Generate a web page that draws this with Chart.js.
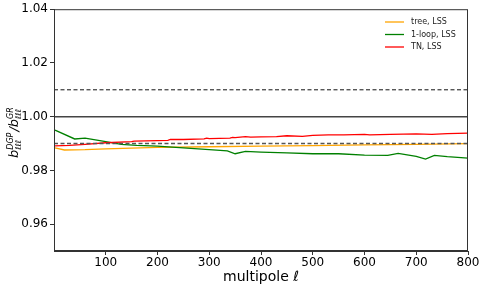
<!DOCTYPE html>
<html>
<head>
<meta charset="utf-8">
<script src="https://cdn.jsdelivr.net/npm/chart.js@4"></script>
<style>
  html, body { margin: 0; padding: 0; background: #fff; }
  #wrap { width: 485px; height: 292px; }
</style>
</head>
<body>
<div id="wrap"><canvas id="chart" width="485" height="292"></canvas></div>
<script>
// data
const treeX = [2, 20, 60, 100, 150, 200, 300, 400, 500, 600, 700, 800];
const treeY = [0.9884, 0.9876, 0.9877, 0.9880, 0.9883, 0.9886, 0.9888, 0.9890, 0.9892, 0.9895, 0.9897, 0.9900];

const loopX = [2, 40, 60, 100, 130, 160, 200, 250, 300, 335, 350, 370, 400, 450, 500, 550, 600, 645, 665, 700, 718, 735, 760, 800];
const loopY = [0.9950, 0.9917, 0.9920, 0.9907, 0.9897, 0.9893, 0.9890, 0.9884, 0.9877, 0.9873, 0.9862, 0.9871, 0.9868, 0.9865, 0.9862, 0.9862, 0.9857, 0.9856, 0.9863, 0.9852, 0.9842, 0.9856, 0.9851, 0.9846];

const tnX = [2, 30, 60, 100, 150, 155, 200, 220, 225, 250, 290, 295, 300, 340, 345, 350, 370, 380, 400, 430, 450, 480, 500, 530, 560, 600, 610, 650, 700, 730, 760, 800];
const tnY = [0.9891, 0.9893, 0.9897, 0.9903, 0.9907, 0.9909, 0.9911, 0.9912, 0.9915, 0.9915, 0.9917, 0.9920, 0.9918, 0.9920, 0.9923, 0.9922, 0.9926, 0.9924, 0.9925, 0.9926, 0.9929, 0.9927, 0.9930, 0.9932, 0.9932, 0.9934, 0.9932, 0.9934, 0.9936, 0.9934, 0.9937, 0.9939];

const refLevels = [1.01, 1.00, 0.99];
const xRange = [0, 800];
const xTicks = [100, 200, 300, 400, 500, 600, 700, 800];
const yTicks = [0.96, 0.98, 1.00, 1.02, 1.04];

const seriesLabels = ['tree, LSS', '1-loop, LSS', 'TN, LSS'];
const seriesColors = ['#ffa500', '#008000', '#ff0000'];

function pts(xs, ys) {
    return xs.map((x, i) => ({ x: x, y: ys[i] }));
}

function hline(v, dash, color, width) {
    return {
        label: '_ref',
        data: xRange.map(x => ({ x: x, y: v })),
        borderColor: color,
        borderWidth: width,
        borderDash: dash,
        pointRadius: 0,
        order: 0
    };
}

const datasets = [
    hline(refLevels[0], [4, 2.5], '#111', 1),
    hline(refLevels[1], [], '#444', 1.5),
    { label: seriesLabels[0], data: pts(treeX, treeY), borderColor: seriesColors[0], borderWidth: 1.3, pointRadius: 0, order: 3 },
    { label: seriesLabels[1], data: pts(loopX, loopY), borderColor: seriesColors[1], borderWidth: 1.3, pointRadius: 0, order: 2 },
    { label: seriesLabels[2], data: pts(tnX, tnY), borderColor: seriesColors[2], borderWidth: 1.3, pointRadius: 0, order: 1 },
    hline(refLevels[2], [4, 2.5], '#555', 1.6)
];

// frame, legend, axis titles
const decor = {
    id: 'decor',
    afterDraw(chart) {
        const c = chart.ctx;
        const a = chart.chartArea;
        c.save();
        c.strokeStyle = '#333';
        c.lineWidth = 1;
        c.strokeRect(a.left + 0.5, a.top + 0.5, a.right - a.left - 1, a.bottom - a.top - 1);

        // legend
        c.font = '8px "DejaVu Sans"';
        c.textBaseline = 'middle';
        c.textAlign = 'left';
        seriesLabels.forEach((lab, i) => {
            const y = 22 + i * 12.5;
            c.strokeStyle = seriesColors[i];
            c.lineWidth = 1.3;
            c.beginPath();
            c.moveTo(385, y);
            c.lineTo(404, y);
            c.stroke();
            c.fillStyle = '#222';
            c.fillText(lab, 411, y);
        });

        // x title
        c.fillStyle = '#000';
        c.textBaseline = 'alphabetic';
        c.textAlign = 'left';
        const t1 = 'multipole ';
        c.font = '14px "DejaVu Sans"';
        const w1 = c.measureText(t1).width;
        c.font = 'italic 14px "DejaVu Sans"';
        const w2 = c.measureText('ℓ').width;
        const cx = (a.left + a.right) / 2;
        const sx = cx - (w1 + w2) / 2;
        c.font = '14px "DejaVu Sans"';
        c.fillText(t1, sx, 281);
        c.font = 'italic 14px "DejaVu Sans"';
        c.fillText('ℓ', sx + w1, 281);

        // y title (rotated), b_lll^DGP / b_lll^GR
        const big = 'italic 13px "DejaVu Sans"';
        const small = 'italic 8px "DejaVu Sans"';
        const groups = [
            { base: 'b', sub: 'ℓℓℓ', sup: 'DGP' },
            { base: '/' },
            { base: 'b', sub: 'ℓℓℓ', sup: 'GR' }
        ];
        const widthOf = (t, f) => { c.font = f; return c.measureText(t).width; };
        let total = 0;
        groups.forEach(g => {
            total += widthOf(g.base, big);
            if (g.sub) total += Math.max(widthOf(g.sub, small), widthOf(g.sup, small)) + 1;
        });
        c.translate(18, (a.top + a.bottom) / 2 + 2);
        c.rotate(-Math.PI / 2);
        let px = -total / 2;
        groups.forEach(g => {
            c.font = big;
            c.fillText(g.base, px, 0);
            px += widthOf(g.base, big);
            if (g.sub) {
                c.font = small;
                c.fillText(g.sub, px, 3);
                c.fillText(g.sup, px, -5);
                px += Math.max(widthOf(g.sub, small), widthOf(g.sup, small)) + 1;
            }
        });
        c.restore();
    }
};

new Chart(document.getElementById('chart'), {
    type: 'line',
    data: { datasets: datasets },
    options: {
        responsive: false,
        animation: false,
        layout: { padding: { top: 9, right: 17, left: 0, bottom: 0 } },
        plugins: { legend: { display: false }, tooltip: { enabled: false } },
        scales: {
            x: {
                type: 'linear',
                min: xRange[0],
                max: xRange[1],
                afterBuildTicks: s => { s.ticks = xTicks.map(v => ({ value: v })); },
                afterFit: s => { s.height = 41; },
                ticks: {
                    color: '#000',
                    font: { family: 'DejaVu Sans', size: 12 },
                    padding: 1,
                    maxRotation: 0,
                    callback: v => String(v)
                },
                grid: { drawOnChartArea: false, drawTicks: true, tickLength: 4, color: '#333' },
                border: { color: '#333' }
            },
            y: {
                min: 0.95,
                max: 1.04,
                afterBuildTicks: s => { s.ticks = yTicks.map(v => ({ value: v })); },
                afterFit: s => { s.width = 54; },
                ticks: {
                    color: '#000',
                    font: { family: 'DejaVu Sans', size: 12 },
                    padding: 2,
                    callback: v => v.toFixed(2)
                },
                grid: { drawOnChartArea: false, drawTicks: true, tickLength: 4, color: '#333' },
                border: { color: '#333' }
            }
        }
    },
    plugins: [decor]
});
</script>
</body>
</html>
